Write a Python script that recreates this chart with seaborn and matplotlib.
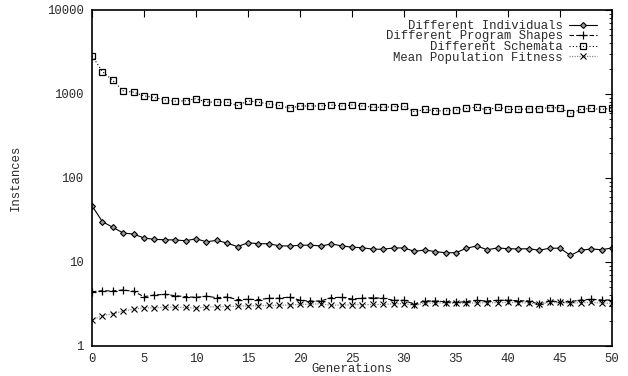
import numpy as np
import pandas as pd
import matplotlib
matplotlib.use("Agg")
import matplotlib.pyplot as plt
from matplotlib.ticker import FixedLocator, FixedFormatter, LogLocator, NullFormatter
import seaborn as sns

generations = list(range(51))

individuals = [46.8, 30.2, 25.9, 22.1, 21.5, 19.3, 18.6, 18.4, 18.3, 17.9,
               18.9, 17.4, 18.1, 16.8, 15.2, 17.0, 16.5, 16.5, 15.6, 15.5,
               15.8, 15.9, 15.5, 16.4, 15.6, 15.0, 14.8, 14.2, 14.2, 14.7,
               14.7, 13.4, 13.9, 13.3, 12.9, 12.9, 14.6, 15.5, 14.0, 14.7,
               14.4, 14.3, 14.4, 13.8, 14.6, 14.6, 12.0, 13.8, 14.3, 14.0,
               14.7]

program_shapes = [4.43, 4.55, 4.52, 4.64, 4.48, 3.86, 4.05, 4.12, 3.97, 3.86,
                  3.80, 3.91, 3.76, 3.83, 3.56, 3.60, 3.56, 3.70, 3.70, 3.83,
                  3.50, 3.43, 3.43, 3.76, 3.80, 3.63, 3.70, 3.76, 3.70, 3.50,
                  3.50, 3.14, 3.43, 3.43, 3.37, 3.31, 3.37, 3.50, 3.43, 3.50,
                  3.50, 3.46, 3.43, 3.14, 3.43, 3.37, 3.37, 3.53, 3.60, 3.53,
                  3.53]

schemata = [2850, 1850, 1450, 1090, 1050, 950, 910, 850, 820, 830,
            880, 800, 800, 800, 730, 830, 800, 760, 730, 680,
            720, 720, 720, 740, 720, 740, 720, 695, 695, 705,
            715, 615, 655, 630, 630, 645, 675, 695, 645, 695,
            655, 655, 665, 670, 685, 685, 590, 655, 675, 655,
            680]

fitness = [2.03, 2.30, 2.42, 2.60, 2.75, 2.86, 2.83, 2.90, 2.88, 2.88,
           2.82, 2.92, 2.92, 2.95, 2.98, 3.00, 3.02, 3.05, 3.05, 3.08,
           3.12, 3.15, 3.18, 3.05, 3.08, 3.10, 3.10, 3.12, 3.12, 3.18,
           3.20, 3.05, 3.25, 3.25, 3.25, 3.22, 3.25, 3.25, 3.28, 3.28,
           3.30, 3.28, 3.25, 3.15, 3.30, 3.30, 3.25, 3.28, 3.30, 3.25,
           3.22]

series_labels = ["Different Individuals", "Different Program Shapes",
                 "Different Schemata", "Mean Population Fitness"]

x_ticks = list(range(0, 51, 5))
y_ticks = [1, 10, 100, 1000, 10000]
y_tick_labels = ["1", "10", "100", "1000", "10000"]

sns.set_theme(style="white")
mono = "Liberation Mono"
plt.rcParams["font.family"] = [mono, "DejaVu Sans"]
FS = 8.8
TEXT = "#2a2a2a"

fig = plt.figure(figsize=(6.28, 3.76), dpi=100)
ax = fig.add_axes([92 / 628, 30 / 376, 520 / 628, 336 / 376])

df = pd.DataFrame({"Generations": generations,
                   series_labels[0]: individuals,
                   series_labels[1]: program_shapes,
                   series_labels[2]: schemata,
                   series_labels[3]: fitness})

styles = {
    series_labels[0]: dict(color="black", linestyle="-", marker="D", markersize=3.0,
                           markerfacecolor="#9a9a9a", markeredgecolor="black",
                           markeredgewidth=0.8, linewidth=0.8),
    series_labels[1]: dict(color="black", linestyle=(0, (4, 2)), marker="+",
                           markersize=5.5, markeredgecolor="black",
                           markeredgewidth=0.9, linewidth=0.8),
    series_labels[2]: dict(color="black", linestyle=(0, (1, 2)), marker="s",
                           markersize=4.3, markerfacecolor="none",
                           markeredgecolor="black", markeredgewidth=0.9,
                           linewidth=0.8),
    series_labels[3]: dict(color="#8c8c8c", linestyle=(0, (1, 1)), marker="x",
                           markersize=4.0, markeredgecolor="black",
                           markeredgewidth=0.8, linewidth=0.9),
}

for name in series_labels:
    sns.lineplot(data=df, x="Generations", y=name, ax=ax, label=name,
                 **styles[name])

ax.set_yscale("log")
ax.set_xlim(0, 50)
ax.set_ylim(1, 10000)

ax.xaxis.set_major_locator(FixedLocator(x_ticks))
ax.yaxis.set_major_locator(FixedLocator(y_ticks))
ax.yaxis.set_major_formatter(FixedFormatter(y_tick_labels))
ax.yaxis.set_minor_locator(LogLocator(base=10, subs=np.arange(2, 10)))
ax.yaxis.set_minor_formatter(NullFormatter())

ax.tick_params(axis="both", which="both", direction="in", top=True, right=True,
               color="black", labelcolor=TEXT, labelsize=FS)
ax.tick_params(axis="both", which="major", length=5, width=0.8)
ax.tick_params(axis="y", which="minor", length=2.5, width=0.6)
ax.tick_params(axis="x", which="major", pad=5)
ax.tick_params(axis="y", which="major", pad=6)

for spine in ax.spines.values():
    spine.set_visible(True)
    spine.set_color("black")
    spine.set_linewidth(1.2)

ax.set_xlabel("Generations", fontsize=FS, color=TEXT)
ax.set_ylabel("Instances", fontsize=FS, color=TEXT)
ax.xaxis.set_label_coords(0.5, -0.052)
ax.yaxis.set_label_coords(-0.136, 0.5)

leg = ax.legend(loc="upper right", bbox_to_anchor=(0.98, 0.985), frameon=False,
                markerfirst=False, handlelength=2.3, handletextpad=0.45,
                labelspacing=-0.12, borderaxespad=0.0, fontsize=FS)
for t in leg.get_texts():
    t.set_color(TEXT)

fig.savefig("out.png", dpi=100, facecolor="white")
